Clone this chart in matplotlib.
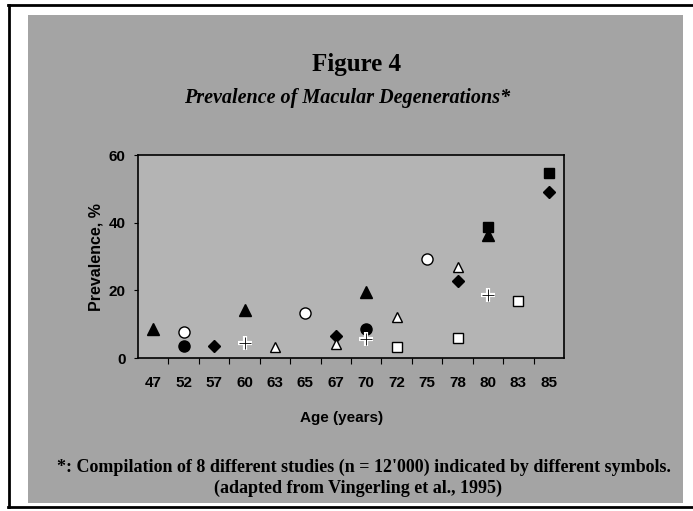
import matplotlib
matplotlib.use('Agg')
import matplotlib.pyplot as plt
from matplotlib.patches import Rectangle
from matplotlib.lines import Line2D
import numpy as np

# age categories on the x axis (equally spaced, categorical)
ages = ['47', '52', '57', '60', '63', '65', '67', '70', '72', '75', '78', '80', '83', '85']
yticks = [0, 20, 40, 60]

# one series per study: ages and prevalence (%)
tri_filled_age = ['47', '60', '70', '80']
tri_filled_val = [8.6, 14.2, 19.5, 36.4]
circ_open_age = ['52', '65', '75']
circ_open_val = [7.7, 13.3, 29.3]
circ_filled_age = ['52', '70']
circ_filled_val = [3.5, 8.6]
diamond_age = ['57', '67', '78', '85']
diamond_val = [3.5, 6.5, 22.8, 49.0]
plus_age = ['60', '70', '80']
plus_val = [4.4, 5.6, 18.6]
tri_open_age = ['63', '67', '72', '78']
tri_open_val = [3.3, 4.1, 12.1, 26.9]
sq_open_age = ['72', '78', '83']
sq_open_val = [3.3, 5.9, 16.8]
sq_filled_age = ['80', '85']
sq_filled_val = [38.7, 54.7]

W, H = 693, 511
SANS = 'Liberation Sans'
SERIF = 'Liberation Serif'


def pos(age_list):
    return [ages.index(a) for a in age_list]


fig = plt.figure(figsize=(W / 100, H / 100), dpi=100, facecolor='white')

# gray panel and page border
fig.patches.append(Rectangle((28 / W, 1 - 503 / H), (683 - 28) / W, (503 - 15) / H,
                             transform=fig.transFigure, facecolor='#a4a4a4',
                             edgecolor='none', zorder=-5))
for xs, ys in [([8.5, 8.5], [5, 507]), ([8, W], [5, 5]), ([8, W], [507, 507])]:
    fig.lines.append(Line2D([x / W for x in xs], [1 - y / H for y in ys],
                            transform=fig.transFigure, color='black', linewidth=2))

ax = fig.add_axes([138 / W, 1 - 358 / H, (564 - 138) / W, (358 - 155) / H])
ax.set_zorder(2)
ax.set_facecolor('#b4b4b4')
ax.set_xlim(-0.5, len(ages) - 0.5)
ax.set_ylim(0, 60)

# studies
ax.plot(pos(tri_filled_age), tri_filled_val, '^', color='black', markersize=8, zorder=3)
ax.plot(pos(circ_open_age), circ_open_val, 'o', mfc='white', mec='black', mew=1, markersize=8, zorder=3)
ax.plot(pos(circ_filled_age), circ_filled_val, 'o', color='black', markersize=8, zorder=3)
ax.plot(pos(diamond_age), diamond_val, 'D', color='black', markersize=6.5, zorder=3)
ax.plot(pos(plus_age), plus_val, '+', color='white', markersize=10, mew=3, zorder=3)
ax.plot(pos(plus_age), plus_val, '+', color='black', markersize=9, mew=0.6, zorder=4)
ax.plot(pos(tri_open_age), tri_open_val, '^', mfc='white', mec='black', mew=1, markersize=7, zorder=3)
ax.plot(pos(sq_open_age), sq_open_val, 's', mfc='white', mec='black', mew=1, markersize=6.5, zorder=3)
ax.plot(pos(sq_filled_age), sq_filled_val, 's', color='black', markersize=7.5, zorder=4)

# axes styling
for s in ax.spines.values():
    s.set_linewidth(1.2)
ax.set_xticks(np.arange(0.5, len(ages) - 1, 1))
ax.set_xticklabels([])
ax.set_xticks(range(len(ages)), minor=True)
ax.set_xticklabels(ages, minor=True, fontfamily=SANS, fontweight='bold', fontsize=11)
ax.tick_params(axis='x', which='major', length=4, direction='out')
ax.tick_params(axis='x', which='minor', length=0, pad=13)
ax.set_yticks(yticks)
ax.set_yticklabels([str(v) for v in yticks], fontfamily=SANS, fontweight='bold', fontsize=11)
ax.tick_params(axis='y', length=3, pad=6)

# texts
fig.text(357 / W, 1 - 65 / H, 'Figure 4', ha='center', va='center',
         fontfamily=SERIF, fontweight='bold', fontsize=18)
fig.text(347 / W, 1 - 98 / H, 'Prevalence of Macular Degenerations*', ha='center', va='center',
         fontfamily=SERIF, fontweight='bold', fontstyle='italic', fontsize=14.5)
fig.text(96 / W, 1 - 257 / H, 'Prevalence, %', ha='center', va='center', rotation=90,
         fontfamily=SANS, fontweight='bold', fontsize=11.5)
fig.text(342 / W, 1 - 418 / H, 'Age (years)', ha='center', va='center',
         fontfamily=SANS, fontweight='bold', fontsize=11)
fig.text(364 / W, 1 - 467 / H,
         "*: Compilation of 8 different studies (n = 12'000) indicated by different symbols.",
         ha='center', va='center', fontfamily=SERIF, fontweight='bold', fontsize=13)
fig.text(358 / W, 1 - 488 / H, '(adapted from Vingerling et al., 1995)',
         ha='center', va='center', fontfamily=SERIF, fontweight='bold', fontsize=13)

fig.savefig('out.png', dpi=100, facecolor='white')
